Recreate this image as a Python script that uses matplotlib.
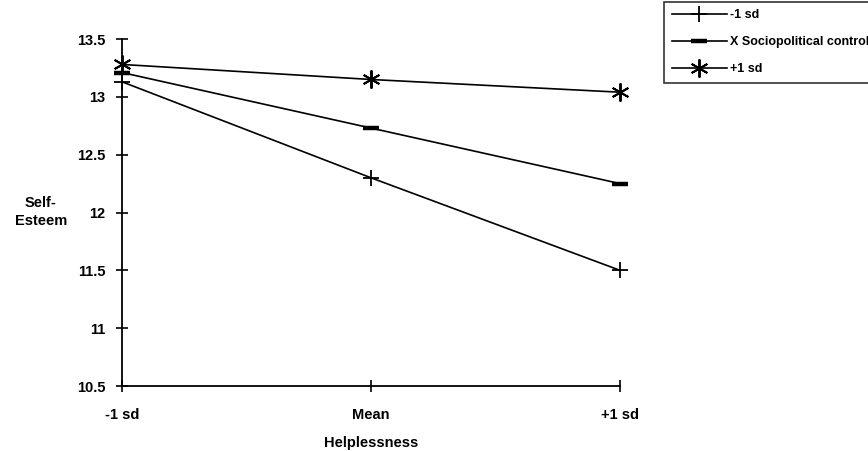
import matplotlib
matplotlib.use('Agg')
import matplotlib.pyplot as plt

# values
x_labels = ['-1 sd', 'Mean', '+1 sd']
low_control = [13.13, 12.30, 11.50]      # -1 sd
mid_control = [13.21, 12.73, 12.25]      # X Sociopolitical control
high_control = [13.28, 13.15, 13.04]     # +1 sd
y_ticks = [10.5, 11, 11.5, 12, 12.5, 13, 13.5]

plt.rcParams['font.family'] = ['Liberation Sans', 'DejaVu Sans']
plt.rcParams['font.weight'] = 'bold'

fig = plt.figure(figsize=(8.68, 4.51), dpi=100)
ax = fig.add_axes([122/868, 1 - 386/451, 498/868, 347/451])

x = list(range(len(x_labels)))
ax.plot(x, low_control, color='black', lw=1.2, marker='+', ms=12, mew=1.3,
        label='-1 sd', clip_on=False)
ax.plot(x, mid_control, color='black', lw=1.2, marker='_', ms=12, mew=3.2,
        label='X Sociopolitical control', clip_on=False)
ax.plot(x, high_control, color='black', lw=1.2, marker=(6, 2, 0), ms=13, mew=1.4,
        label='+1 sd', clip_on=False)

ax.set_xlim(0, 2)
ax.set_ylim(10.5, 13.5)
ax.set_xticks(x)
ax.set_xticklabels(x_labels)
ax.set_yticks(y_ticks)
ax.set_yticklabels(['10.5', '11', '11.5', '12', '12.5', '13', '13.5'])
for s in ['top', 'right']:
    ax.spines[s].set_visible(False)
for s in ['left', 'bottom']:
    ax.spines[s].set_linewidth(1.3)
ax.tick_params(direction='inout', length=8, width=1.2, labelsize=10.5, pad=8)
ax.tick_params(axis='x', pad=12)

ax.set_xlabel('Helplessness', fontsize=10.5, fontweight='bold', labelpad=10)
fig.text(41/868, 1 - 212/451, 'Self-\nEsteem', ha='center', va='center',
         fontsize=10.5, fontweight='bold', linespacing=1.4)

leg = fig.legend(loc='upper left', bbox_to_anchor=(664/868, 1 - 2/451),
                 borderaxespad=0, handlelength=4.4, labelspacing=1.2,
                 borderpad=0.6, handletextpad=0.3, fancybox=False, frameon=True,
                 prop={'weight': 'bold', 'size': 9})
leg.get_frame().set_edgecolor('black')
leg.get_frame().set_linewidth(1.2)

fig.savefig('out.png', dpi=100)
